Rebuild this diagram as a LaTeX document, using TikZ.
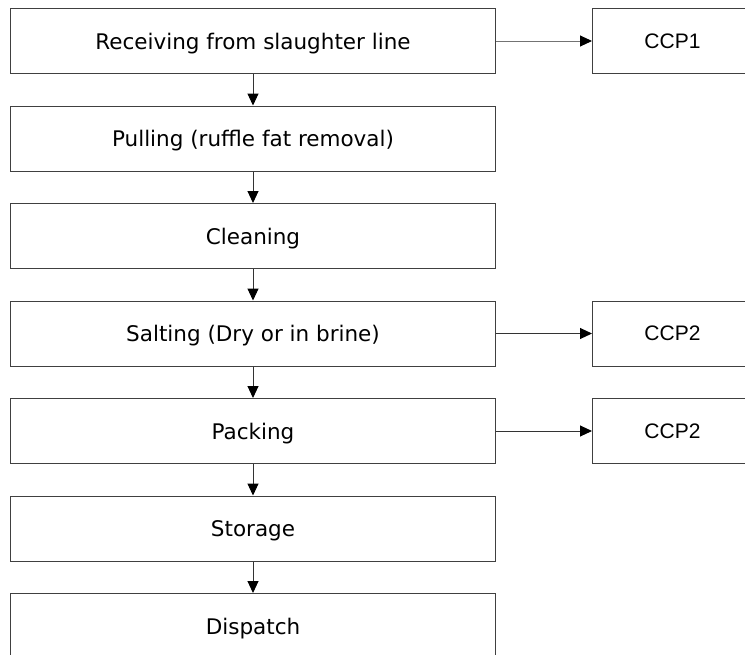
\documentclass[tikz,border=0pt]{standalone}
\usepackage{fontspec}
\setmainfont{DejaVu Sans}
\newfontfamily\ccpfont{Liberation Sans}
\usetikzlibrary{arrows.meta}
\begin{document}
\begin{tikzpicture}[x=1pt,y=-1pt,
  stepbox/.style={draw=black!75, line width=1pt, minimum width=485pt, minimum height=65pt, inner sep=0pt, text depth=0pt, font=\fontsize{21.5}{24}\selectfont, anchor=north west},
  ccpbox/.style={draw=black!75, line width=1pt, minimum width=160pt, minimum height=65pt, inner sep=0pt, text depth=0pt, font=\ccpfont\fontsize{21}{24}\selectfont, anchor=north west},
  conn/.style={draw=black!80, line width=1pt, -{Triangle[length=12pt,width=11pt,fill=black,color=black]}}]
\useasboundingbox (0,0) rectangle (745,654);
\node[stepbox] (s1) at (10,8) {Receiving from slaughter line};
\node[stepbox] (s2) at (10,105.5) {Pulling (ruffle fat removal)};
\node[stepbox] (s3) at (10,203) {Cleaning};
\node[stepbox] (s4) at (10,300.5) {Salting (Dry or in brine)};
\node[stepbox] (s5) at (10,398) {Packing};
\node[stepbox] (s6) at (10,495.5) {Storage};
\node[stepbox] (s7) at (10,593) {Dispatch};
\node[ccpbox] (c1) at (592,8) {CCP1};
\node[ccpbox] (c2) at (592,300.5) {CCP2};
\node[ccpbox] (c3) at (592,398) {CCP2};
\draw[conn] (s1) -- (s2);
\draw[conn] (s2) -- (s3);
\draw[conn] (s3) -- (s4);
\draw[conn] (s4) -- (s5);
\draw[conn] (s5) -- (s6);
\draw[conn] (s6) -- (s7);
\draw[conn,draw=black!55] (s1) -- (c1);
\draw[conn] (s4) -- (c2);
\draw[conn] (s5) -- (c3);
\end{tikzpicture}
\end{document}
